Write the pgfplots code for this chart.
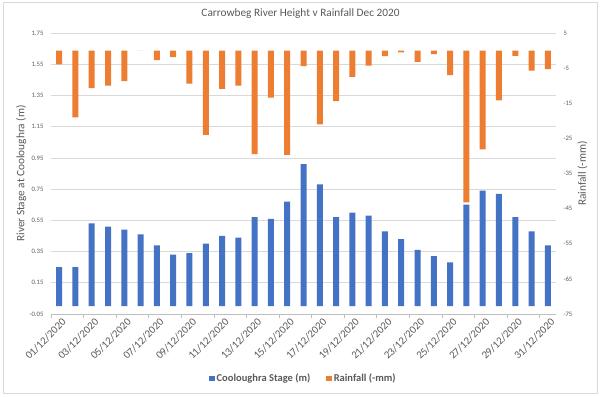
\documentclass[border=0pt]{standalone}
\usepackage{fontspec}
\setmainfont{Carlito}
\usepackage{pgfplots}
\usepackage{pgfplotstable}
\pgfplotsset{compat=1.18}
\definecolor{cblue}{HTML}{4472C4}
\definecolor{corange}{HTML}{ED7D31}
\definecolor{txtgray}{HTML}{595959}
\definecolor{gridgray}{HTML}{D9D9D9}

\pgfplotstableread{
day stage rain
1 0.25 -3.9
2 0.25 -19.0
3 0.53 -10.7
4 0.51 -10.0
5 0.49 -8.7
6 0.46 0
7 0.39 -2.7
8 0.33 -1.9
9 0.34 -9.4
10 0.40 -24.0
11 0.45 -10.9
12 0.44 -10.0
13 0.57 -29.5
14 0.56 -13.4
15 0.67 -29.7
16 0.91 -4.4
17 0.78 -21.0
18 0.57 -14.4
19 0.60 -7.5
20 0.58 -4.3
21 0.48 -1.6
22 0.43 -0.5
23 0.36 -3.2
24 0.32 -1.0
25 0.28 -7.0
26 0.65 -43.2
27 0.74 -28.1
28 0.72 -14.2
29 0.57 -1.5
30 0.48 -5.7
31 0.39 -5.3
}\datatable

\begin{document}
\begin{tikzpicture}
\useasboundingbox (-51pt,-82pt) rectangle (551pt,314pt);
\draw[gridgray, line width=0.7pt] (-48pt,-79pt) rectangle (546pt,312pt);
\node[text=txtgray, font=\fontsize{11.3}{13}\selectfont] at (249.5pt,300pt) {Carrowbeg River Height v Rainfall Dec 2020};
\begin{axis}[
  at={(0pt,0pt)}, anchor=south west,
  scale only axis, width=505pt, height=281pt,
  xmin=0.5, xmax=31.5,
  ymin=-0.05, ymax=1.75,
  axis x line*=bottom, axis y line*=left,
  y axis line style={draw=none},
  x axis line style={draw=gridgray!70!gray, line width=0.7pt},
  ytick={-0.05,0.15,0.35,0.55,0.75,0.95,1.15,1.35,1.55,1.75},
  yticklabel={\pgfmathprintnumber[fixed,fixed zerofill,precision=2,assume math mode=true]{\tick}},
  yticklabel style={font=\fontsize{6.7}{8}\selectfont, text=txtgray, xshift=-4pt},
  ymajorgrids, major grid style={draw=gridgray, line width=0.7pt},
  major tick length=0pt,
  xtick={1,3,...,31},
  xticklabels={01/12/2020,03/12/2020,05/12/2020,07/12/2020,09/12/2020,11/12/2020,13/12/2020,15/12/2020,17/12/2020,19/12/2020,21/12/2020,23/12/2020,25/12/2020,27/12/2020,29/12/2020,31/12/2020},
  xticklabel style={font=\fontsize{10.8}{12}\selectfont, text=txtgray, rotate=45, anchor=north east, inner sep=1pt, yshift=-3pt},
  minor xtick={0.5,2.5,...,30.5},
  minor tick length=4pt,
  tick align=outside,
  minor tick style={draw=gridgray!70!gray, line width=0.7pt},
  ylabel={River Stage at Cooloughra (m)},
  ylabel style={at={(axis description cs:-0.059,0.5)}, anchor=center, font=\fontsize{11.3}{13}\selectfont, text=txtgray},
]
\addplot[ybar, bar width=6pt, bar shift=0pt, fill=cblue, draw=none] table[x=day,y=stage]{\datatable};
\end{axis}
\begin{axis}[
  at={(0pt,0pt)}, anchor=south west,
  scale only axis, width=505pt, height=281pt,
  xmin=0.5, xmax=31.5,
  ymin=-75, ymax=5,
  hide x axis,
  axis y line*=right,
  y axis line style={draw=none},
  ytick={-75,-65,-55,-45,-35,-25,-15,-5,5},
  yticklabel={\pgfmathprintnumber[assume math mode=true]{\tick}},
  yticklabel style={font=\fontsize{6.7}{8}\selectfont, text=txtgray, xshift=4pt},
  major tick length=0pt,
  ylabel={Rainfall (-mm)},
  ylabel style={at={(axis description cs:1.0525,0.5)}, anchor=center, font=\fontsize{11.3}{13}\selectfont, text=txtgray},
  legend image code/.code={\path[#1,draw=none] (0pt,-2.7pt) rectangle (5.4pt,2.7pt);},
  legend style={at={(axis description cs:0.5,-0.23)}, anchor=center, draw=none, fill=none,
    legend columns=2, font=\bfseries\fontsize{10.5}{12}\selectfont, text=txtgray,
    /tikz/every even column/.append style={column sep=14pt},
    /tikz/every odd column/.append style={inner sep=0pt}},
]
\addlegendimage{fill=cblue}
\addlegendentry{Cooloughra Stage (m)}
\addplot[ybar, bar width=6pt, bar shift=0pt, fill=corange, draw=none] table[x=day,y=rain]{\datatable};
\addlegendentry{Rainfall (-mm)}
\end{axis}
\end{tikzpicture}
\end{document}
